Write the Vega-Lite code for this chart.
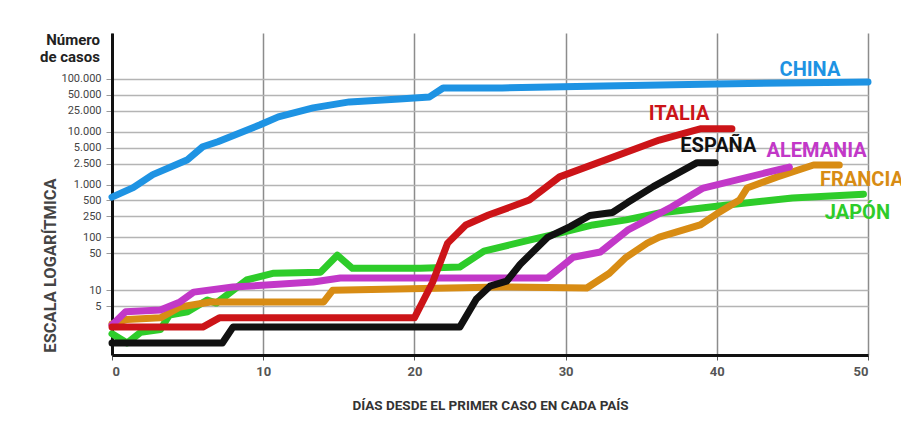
{
  "$schema": "https://vega.github.io/schema/vega-lite/v6.json",
  "width": 756,
  "height": 322,
  "autosize": {"type": "none"},
  "padding": {"left": 112, "top": 33, "right": 33, "bottom": 70},
  "background": "white",
  "config": {"view": {"stroke": null}, "font": "Roboto"},
  "title": {
    "text": ["Número", "de casos"],
    "anchor": "start",
    "frame": "group",
    "align": "right",
    "baseline": "top",
    "dx": -12,
    "offset": -32,
    "fontSize": 15,
    "fontWeight": "bold",
    "color": "#222",
    "lineHeight": 17
  },
  "datasets": {
    "series": [
      {"pais": "CHINA", "dia": 0, "casos": 580},
      {"pais": "CHINA", "dia": 1.4, "casos": 877},
      {"pais": "CHINA", "dia": 2.7, "casos": 1545},
      {"pais": "CHINA", "dia": 5, "casos": 2964},
      {"pais": "CHINA", "dia": 6, "casos": 5210},
      {"pais": "CHINA", "dia": 7, "casos": 6480},
      {"pais": "CHINA", "dia": 9.8, "casos": 13560},
      {"pais": "CHINA", "dia": 11, "casos": 19200},
      {"pais": "CHINA", "dia": 13.3, "casos": 28400},
      {"pais": "CHINA", "dia": 15.7, "casos": 36800},
      {"pais": "CHINA", "dia": 19, "casos": 42000},
      {"pais": "CHINA", "dia": 21, "casos": 45700},
      {"pais": "CHINA", "dia": 21.9, "casos": 67600},
      {"pais": "CHINA", "dia": 25.8, "casos": 67600},
      {"pais": "CHINA", "dia": 32.5, "casos": 73800},
      {"pais": "CHINA", "dia": 40, "casos": 80500},
      {"pais": "CHINA", "dia": 50, "casos": 87800},

      {"pais": "JAPÓN", "dia": 0, "casos": 1.5},
      {"pais": "JAPÓN", "dia": 1, "casos": 1.0},
      {"pais": "JAPÓN", "dia": 1.9, "casos": 1.6},
      {"pais": "JAPÓN", "dia": 3.2, "casos": 1.8},
      {"pais": "JAPÓN", "dia": 3.8, "casos": 3.4},
      {"pais": "JAPÓN", "dia": 5, "casos": 3.9},
      {"pais": "JAPÓN", "dia": 6.3, "casos": 6.5},
      {"pais": "JAPÓN", "dia": 6.9, "casos": 5.7},
      {"pais": "JAPÓN", "dia": 8.9, "casos": 15.6},
      {"pais": "JAPÓN", "dia": 10.7, "casos": 21},
      {"pais": "JAPÓN", "dia": 13.8, "casos": 22},
      {"pais": "JAPÓN", "dia": 14.9, "casos": 46},
      {"pais": "JAPÓN", "dia": 15.9, "casos": 26},
      {"pais": "JAPÓN", "dia": 20.4, "casos": 26},
      {"pais": "JAPÓN", "dia": 23, "casos": 27.5},
      {"pais": "JAPÓN", "dia": 24.6, "casos": 55},
      {"pais": "JAPÓN", "dia": 27.6, "casos": 89},
      {"pais": "JAPÓN", "dia": 29.6, "casos": 121},
      {"pais": "JAPÓN", "dia": 31.8, "casos": 172},
      {"pais": "JAPÓN", "dia": 34, "casos": 215},
      {"pais": "JAPÓN", "dia": 36.2, "casos": 290},
      {"pais": "JAPÓN", "dia": 40.7, "casos": 410},
      {"pais": "JAPÓN", "dia": 45, "casos": 560},
      {"pais": "JAPÓN", "dia": 49.7, "casos": 660},

      {"pais": "FRANCIA", "dia": 0, "casos": 2.3},
      {"pais": "FRANCIA", "dia": 1, "casos": 2.8},
      {"pais": "FRANCIA", "dia": 3.2, "casos": 3},
      {"pais": "FRANCIA", "dia": 4.5, "casos": 4.8},
      {"pais": "FRANCIA", "dia": 6.5, "casos": 6},
      {"pais": "FRANCIA", "dia": 14, "casos": 6},
      {"pais": "FRANCIA", "dia": 14.6, "casos": 10},
      {"pais": "FRANCIA", "dia": 25.7, "casos": 11.5},
      {"pais": "FRANCIA", "dia": 31.4, "casos": 11},
      {"pais": "FRANCIA", "dia": 32.9, "casos": 21},
      {"pais": "FRANCIA", "dia": 34, "casos": 42},
      {"pais": "FRANCIA", "dia": 35.4, "casos": 78},
      {"pais": "FRANCIA", "dia": 36.2, "casos": 101},
      {"pais": "FRANCIA", "dia": 38.9, "casos": 172},
      {"pais": "FRANCIA", "dia": 40, "casos": 280},
      {"pais": "FRANCIA", "dia": 41.5, "casos": 510},
      {"pais": "FRANCIA", "dia": 42, "casos": 860},
      {"pais": "FRANCIA", "dia": 44, "casos": 1400},
      {"pais": "FRANCIA", "dia": 46.4, "casos": 2350},
      {"pais": "FRANCIA", "dia": 48.1, "casos": 2350},

      {"pais": "ALEMANIA", "dia": 0, "casos": 2.2},
      {"pais": "ALEMANIA", "dia": 0.9, "casos": 3.9},
      {"pais": "ALEMANIA", "dia": 3.2, "casos": 4.2},
      {"pais": "ALEMANIA", "dia": 4.5, "casos": 6},
      {"pais": "ALEMANIA", "dia": 5.4, "casos": 9.2},
      {"pais": "ALEMANIA", "dia": 8, "casos": 11.5},
      {"pais": "ALEMANIA", "dia": 10.2, "casos": 12.5},
      {"pais": "ALEMANIA", "dia": 13.3, "casos": 14.3},
      {"pais": "ALEMANIA", "dia": 15.1, "casos": 17},
      {"pais": "ALEMANIA", "dia": 28.8, "casos": 17},
      {"pais": "ALEMANIA", "dia": 30.5, "casos": 42},
      {"pais": "ALEMANIA", "dia": 32.3, "casos": 53},
      {"pais": "ALEMANIA", "dia": 34.1, "casos": 137},
      {"pais": "ALEMANIA", "dia": 37, "casos": 375},
      {"pais": "ALEMANIA", "dia": 39.1, "casos": 860},
      {"pais": "ALEMANIA", "dia": 44.8, "casos": 2150},

      {"pais": "ESPAÑA", "dia": 0, "casos": 1},
      {"pais": "ESPAÑA", "dia": 7.3, "casos": 1},
      {"pais": "ESPAÑA", "dia": 8, "casos": 2},
      {"pais": "ESPAÑA", "dia": 23, "casos": 2},
      {"pais": "ESPAÑA", "dia": 24.1, "casos": 6.8},
      {"pais": "ESPAÑA", "dia": 25, "casos": 11.9},
      {"pais": "ESPAÑA", "dia": 26.1, "casos": 14.8},
      {"pais": "ESPAÑA", "dia": 27, "casos": 31},
      {"pais": "ESPAÑA", "dia": 28.8, "casos": 100},
      {"pais": "ESPAÑA", "dia": 30.3, "casos": 160},
      {"pais": "ESPAÑA", "dia": 31.6, "casos": 260},
      {"pais": "ESPAÑA", "dia": 33.1, "casos": 296},
      {"pais": "ESPAÑA", "dia": 34.1, "casos": 457},
      {"pais": "ESPAÑA", "dia": 35.8, "casos": 915},
      {"pais": "ESPAÑA", "dia": 38.7, "casos": 2600},
      {"pais": "ESPAÑA", "dia": 39.9, "casos": 2600},

      {"pais": "ITALIA", "dia": 0, "casos": 2},
      {"pais": "ITALIA", "dia": 6, "casos": 2},
      {"pais": "ITALIA", "dia": 7.1, "casos": 3},
      {"pais": "ITALIA", "dia": 20, "casos": 3},
      {"pais": "ITALIA", "dia": 21.2, "casos": 14},
      {"pais": "ITALIA", "dia": 22.2, "casos": 78},
      {"pais": "ITALIA", "dia": 23.4, "casos": 172},
      {"pais": "ITALIA", "dia": 24.9, "casos": 265},
      {"pais": "ITALIA", "dia": 27.6, "casos": 510},
      {"pais": "ITALIA", "dia": 29.6, "casos": 1400},
      {"pais": "ITALIA", "dia": 36.2, "casos": 6990},
      {"pais": "ITALIA", "dia": 38.9, "casos": 11400},
      {"pais": "ITALIA", "dia": 41, "casos": 11400}
    ],
    "etiquetas": [
      {"pais": "CHINA", "dia": 46.16, "casos": 151000},
      {"pais": "ITALIA", "dia": 37.5, "casos": 21300},
      {"pais": "ESPAÑA", "dia": 40.1, "casos": 5500},
      {"pais": "ALEMANIA", "dia": 46.6, "casos": 4420},
      {"pais": "FRANCIA", "dia": 49.6, "casos": 1197},
      {"pais": "JAPÓN", "dia": 49.3, "casos": 296}
    ]
  },
  "encoding": {
    "x": {
      "field": "dia",
      "type": "quantitative",
      "scale": {"domain": [0, 50], "nice": false, "zero": false},
      "axis": {
        "values": [0, 10, 20, 30, 40, 50],
        "grid": true,
        "gridColor": "#8c8c8c",
        "gridWidth": 1.5,
        "domainColor": "#111",
        "domainWidth": 3,
        "tickColor": "#555",
        "tickSize": 5,
        "labelFontSize": 13,
        "labelFontWeight": "bold",
        "labelColor": "#555",
        "labelPadding": 5,
        "title": "DÍAS DESDE EL PRIMER CASO EN CADA PAÍS",
        "titleFontSize": 13.5,
        "titleFontWeight": "bold",
        "titleColor": "#333",
        "titleY": 50,
        "titleBaseline": "middle"
      }
    },
    "y": {
      "field": "casos",
      "type": "quantitative",
      "scale": {"type": "log", "domain": [0.593, 743000], "nice": false},
      "axis": {
        "values": [5, 10, 50, 100, 250, 500, 1000, 2500, 5000, 10000, 25000, 50000, 100000],
        "labelExpr": "replace(format(datum.value, ','), ',', '.')",
        "grid": true,
        "gridColor": "#b4b4b4",
        "gridWidth": 1.5,
        "domainColor": "#111",
        "domainWidth": 3,
        "tickColor": "#999",
        "tickSize": 6,
        "labelPadding": 5,
        "labelFontSize": 11,
        "labelColor": "#444",
        "title": "ESCALA LOGARÍTMICA",
        "titleX": -62,
        "titleY": 232,
        "titleAngle": -90,
        "titleAlign": "center",
        "titleBaseline": "middle",
        "titleFontSize": 16.5,
        "titleFontWeight": "bold",
        "titleColor": "#444"
      }
    },
    "color": {
      "field": "pais",
      "type": "nominal",
      "scale": {
        "domain": ["CHINA", "JAPÓN", "FRANCIA", "ALEMANIA", "ESPAÑA", "ITALIA"],
        "range": ["#1e93e3", "#2ecc2a", "#d88c14", "#c238c8", "#111111", "#cc1418"]
      },
      "legend": null
    }
  },
  "layer": [
    {
      "data": {"name": "series"},
      "mark": {"type": "line", "strokeWidth": 7, "strokeJoin": "round", "strokeCap": "round"}
    },
    {
      "data": {"name": "etiquetas"},
      "mark": {"type": "text", "fontSize": 20, "fontWeight": "bold", "font": "Roboto", "align": "center", "baseline": "middle"},
      "encoding": {"text": {"field": "pais"}}
    }
  ]
}
